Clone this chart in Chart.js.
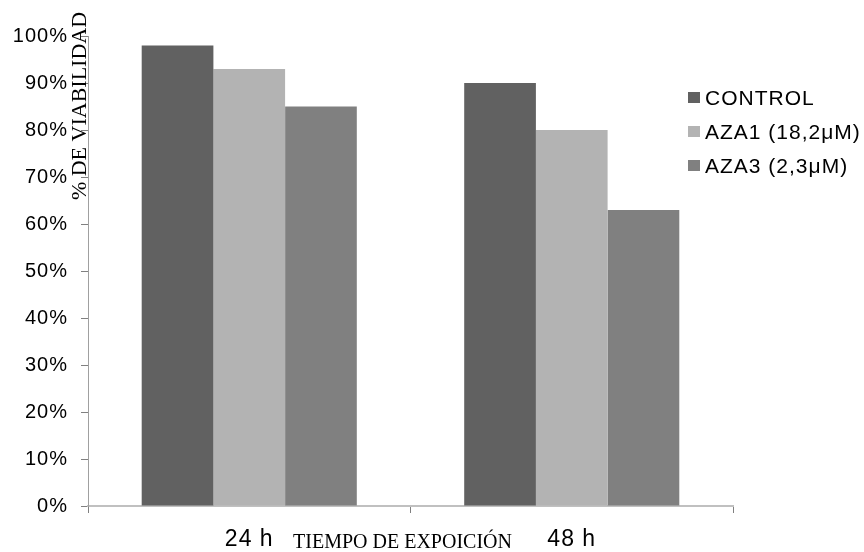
<!DOCTYPE html>
<html>
<head>
<meta charset="utf-8">
<script src="https://cdn.jsdelivr.net/npm/chart.js@4/dist/chart.umd.min.js"></script>
<style>
html,body{margin:0;padding:0;background:#fff;}
#wrap{width:864px;height:552px;position:relative;}
</style>
</head>
<body>
<div id="wrap"><canvas id="c" width="864" height="552"></canvas></div>
<script>
const categories = ["24 h", "48 h"];
const seriesNames = ["CONTROL", "AZA1 (18,2μM)", "AZA3 (2,3μM)"];
const controlValues = [98, 90];
const aza1Values = [93, 80];
const aza3Values = [85, 63];
const yTickValues = [0, 10, 20, 30, 40, 50, 60, 70, 80, 90, 100];
const yAxisTitle = "% DE VIABILIDAD";
const xAxisTitle = "TIEMPO DE EXPOICIÓN";

const colors = ["#616161", "#b3b3b3", "#808080"];
const seriesValues = [controlValues, aza1Values, aza3Values];

const overlayText = {
  id: 'overlayText',
  beforeDraw(chart) {
    chart.ctx.letterSpacing = '1px';
  },
  afterDraw(chart) {
    const ctx = chart.ctx;
    const area = chart.chartArea;
    ctx.save();
    ctx.letterSpacing = '0px';
    ctx.fillStyle = '#000';
    ctx.font = '22px "Liberation Serif", "Times New Roman", serif';
    ctx.textAlign = 'center';
    ctx.textBaseline = 'alphabetic';
    ctx.translate(area.left - 2, 106);
    ctx.rotate(-Math.PI / 2);
    ctx.fillText(yAxisTitle, 0, 0);
    ctx.restore();

    ctx.save();
    ctx.letterSpacing = '0px';
    ctx.fillStyle = '#000';
    ctx.font = '20px "Liberation Serif", "Times New Roman", serif';
    ctx.textAlign = 'center';
    ctx.textBaseline = 'middle';
    ctx.fillText(xAxisTitle, (area.left + area.right) / 2 - 8, 543);

    ctx.letterSpacing = '1px';
    ctx.font = '21px "Liberation Sans", Arial, sans-serif';
    ctx.textAlign = 'left';
    ctx.textBaseline = 'middle';
    chart.data.datasets.forEach((ds, i) => {
      const cy = 98 + i * 34;
      ctx.fillStyle = ds.backgroundColor;
      ctx.fillRect(688, cy - 6, 12, 11);
      ctx.fillStyle = '#000';
      ctx.fillText(ds.label, 705, cy + 1);
    });
    ctx.restore();
  }
};

new Chart(document.getElementById('c'), {
  type: 'bar',
  data: {
    labels: categories,
    datasets: seriesNames.map((name, i) => ({
      label: name,
      data: seriesValues[i],
      backgroundColor: colors[i],
      borderWidth: 0,
      categoryPercentage: 0.667,
      barPercentage: 1.0
    }))
  },
  options: {
    responsive: false,
    animation: false,
    devicePixelRatio: 1,
    layout: { padding: { left: 0, right: 131, top: 36, bottom: 0 } },
    plugins: {
      legend: { display: false },
      tooltip: { enabled: false }
    },
    scales: {
      x: {
        grid: {
          display: true,
          offset: true,
          drawOnChartArea: false,
          drawTicks: true,
          tickLength: 7,
          color: '#808080'
        },
        border: { display: true, color: '#c0c0c0', width: 2 },
        ticks: {
          color: '#000',
          font: { family: '"Liberation Sans", Arial, sans-serif', size: 23 },
          padding: 13,
          maxRotation: 0
        },
        afterFit(scale) { scale.height = 46; }
      },
      y: {
        min: 0,
        max: 100,
        afterBuildTicks(scale) { scale.ticks = yTickValues.map(v => ({ value: v })); },
        grid: {
          display: true,
          drawOnChartArea: false,
          drawTicks: true,
          tickLength: 7,
          color: '#808080'
        },
        border: { display: true, color: '#a0a0a0', width: 1 },
        ticks: {
          color: '#000',
          font: { family: '"Liberation Sans", Arial, sans-serif', size: 20 },
          padding: 13,
          callback: v => v + '%'
        },
        afterFit(scale) { scale.width = 88; }
      }
    }
  },
  plugins: [overlayText]
});
</script>
</body>
</html>
